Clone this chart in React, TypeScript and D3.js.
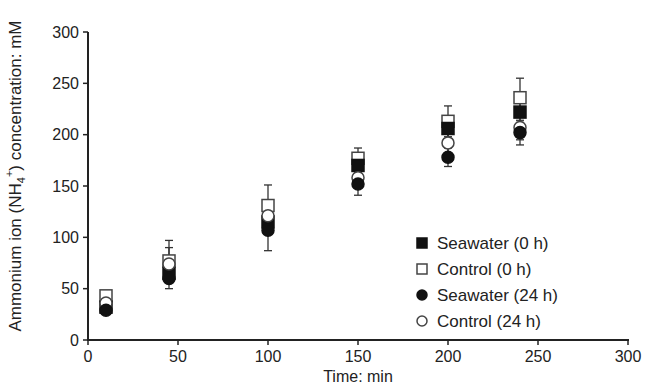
import React from "react";
import * as d3 from "d3";

const times = [10, 45, 100, 150, 200, 240];
const seawater0 = [32, 65, 115, 170, 206, 222];
const control0 = [43, 77, 131, 177, 213, 236];
const seawater24 = [29, 60, 107, 152, 178, 202];
const control24 = [36, 74, 121, 158, 192, 207];
const seawater0Err = [3, 8, 10, 8, 10, 10];
const control0Err = [4, 20, 20, 10, 15, 19];
const seawater24Err = [3, 10, 20, 11, 9, 12];
const control24Err = [3, 16, 12, 8, 12, 12];
const xTicks = [0, 50, 100, 150, 200, 250, 300];
const yTicks = [0, 50, 100, 150, 200, 250, 300];
const legendLabels = ["Seawater (0 h)", "Control (0 h)", "Seawater (24 h)", "Control (24 h)"];

const W = 651, H = 387;
const font = "'Liberation Sans', Arial, sans-serif";

export default function App() {
  const x = d3.scaleLinear().domain([0, 300]).range([88, 628]);
  const y = d3.scaleLinear().domain([0, 300]).range([340, 32]);

  const series = [
    { vals: control0, err: control0Err, shape: "square", filled: false },
    { vals: seawater0, err: seawater0Err, shape: "square", filled: true },
    { vals: control24, err: control24Err, shape: "circle", filled: false },
    { vals: seawater24, err: seawater24Err, shape: "circle", filled: true },
  ];

  const marker = (shape: string, filled: boolean, cx: number, cy: number, s: number, key: string) => {
    const fill = filled ? "#111" : "#fff";
    const stroke = filled ? "#111" : "#444";
    if (shape === "square") {
      return <rect key={key} x={cx - s / 2} y={cy - s / 2} width={s} height={s} fill={fill} stroke={stroke} strokeWidth={1.5} />;
    }
    return <circle key={key} cx={cx} cy={cy} r={s / 2} fill={fill} stroke={stroke} strokeWidth={1.5} />;
  };

  const legendOrder = [
    { shape: "square", filled: true },
    { shape: "square", filled: false },
    { shape: "circle", filled: true },
    { shape: "circle", filled: false },
  ];

  return (
    <svg width={W} height={H} style={{ position: "absolute", left: 0, top: 0, background: "#fff" }}>
      {series.map((s, si) =>
        times.map((t, i) => {
          const cx = x(t);
          const top = y(s.vals[i] + s.err[i]);
          const bot = y(s.vals[i] - s.err[i]);
          return (
            <g key={`e${si}-${i}`} stroke="#333" strokeWidth={1.3}>
              <line x1={cx} x2={cx} y1={top} y2={bot} />
              <line x1={cx - 4} x2={cx + 4} y1={top} y2={top} />
              <line x1={cx - 4} x2={cx + 4} y1={bot} y2={bot} />
            </g>
          );
        })
      )}
      {series.map((s, si) =>
        times.map((t, i) => marker(s.shape, s.filled, x(t), y(s.vals[i]), s.shape === "square" ? 12 : 12, `m${si}-${i}`))
      )}
      <line x1={88} x2={88} y1={32} y2={341} stroke="#222" strokeWidth={2} />
      <line x1={87} x2={629} y1={340} y2={340} stroke="#222" strokeWidth={2} />
      {yTicks.map((v) => (
        <g key={`yt${v}`}>
          <line x1={83} x2={88} y1={y(v)} y2={y(v)} stroke="#222" strokeWidth={1.5} />
          <text x={79} y={y(v)} dy="0.35em" textAnchor="end" fontFamily={font} fontSize={16} fill="#222">{v}</text>
        </g>
      ))}
      {xTicks.map((v) => (
        <g key={`xt${v}`}>
          <line x1={x(v)} x2={x(v)} y1={340} y2={345} stroke="#222" strokeWidth={1.5} />
          <text x={x(v)} y={362} textAnchor="middle" fontFamily={font} fontSize={16} fill="#222">{v}</text>
        </g>
      ))}
      <text x={358} y={382} textAnchor="middle" fontFamily={font} fontSize={16} fill="#222">Time: min</text>
      <text transform="translate(21,176) rotate(-90)" textAnchor="middle" fontFamily={font} fontSize={17} fill="#222">
        Ammonium ion (NH<tspan fontSize={11} dy={4}>4</tspan><tspan fontSize={11} dy={-12}>+</tspan><tspan dy={8}>) concentration: mM</tspan>
      </text>
      {legendLabels.map((lab, i) => {
        const ly = 243 + i * 26;
        const lo = legendOrder[i];
        return (
          <g key={`lg${i}`}>
            {marker(lo.shape, lo.filled, 422, ly, 10, `lm${i}`)}
            <text x={437} y={ly} dy="0.35em" fontFamily={font} fontSize={17} fill="#222">{lab}</text>
          </g>
        );
      })}
    </svg>
  );
}
